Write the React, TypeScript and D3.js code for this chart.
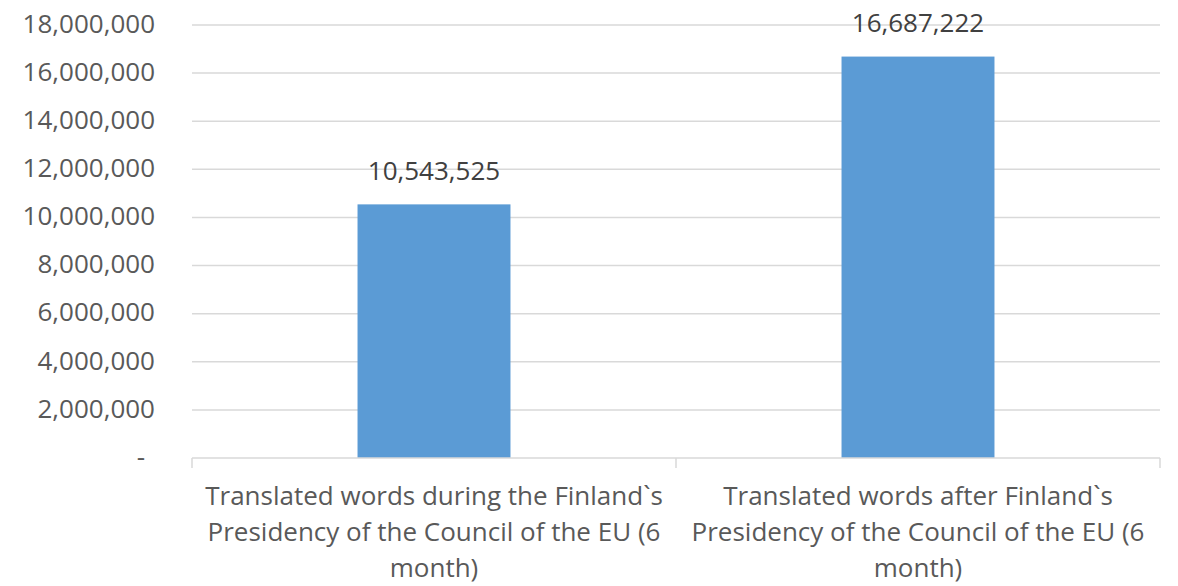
import React, { useEffect, useRef } from "react";
import * as d3 from "d3";

// values
const categories = ["during", "after"];
const categoryLines = [
  ["Translated words during the Finland`s", "Presidency of the Council of the EU (6", "month)"],
  ["Translated words after Finland`s", "Presidency of the Council of the EU (6", "month)"],
];
const translatedWords = [10543525, 16687222];
const yTicks = [0, 2000000, 4000000, 6000000, 8000000, 10000000, 12000000, 14000000, 16000000, 18000000];

const W = 1178;
const H = 586;
const FONT = "'Open Sans', 'DejaVu Sans', sans-serif";

export default function App() {
  const ref = useRef<SVGSVGElement | null>(null);

  useEffect(() => {
    document.body.style.margin = "0";
    const svg = d3.select(ref.current);
    svg.selectAll("*").remove();

    const margin = { top: 25, right: 18, bottom: 128, left: 192 };
    const x = d3.scaleBand<string>()
      .domain(categories)
      .range([margin.left, W - margin.right])
      .paddingInner(0.684)
      .paddingOuter(0.342);
    const y = d3.scaleLinear()
      .domain([0, 18000000])
      .range([H - margin.bottom, margin.top]);

    const fmt = d3.format(",");
    const y0 = y(0);

    // gridlines
    svg.append("g")
      .selectAll("line")
      .data(yTicks.filter(d => d > 0))
      .enter()
      .append("line")
      .attr("x1", margin.left)
      .attr("x2", W - margin.right)
      .attr("y1", d => y(d))
      .attr("y2", d => y(d))
      .attr("stroke", "#d9d9d9")
      .attr("stroke-width", 1.5);

    // y labels
    svg.append("g")
      .selectAll("text")
      .data(yTicks)
      .enter()
      .append("text")
      .attr("x", d => (d === 0 ? 145 : 155))
      .attr("y", d => y(d))
      .attr("dy", "0.3em")
      .attr("text-anchor", "end")
      .attr("font-family", FONT)
      .attr("font-size", 26)
      .attr("fill", "#595959")
      .text(d => (d === 0 ? "-" : fmt(d)));

    // bars
    svg.append("g")
      .selectAll("rect")
      .data(translatedWords)
      .enter()
      .append("rect")
      .attr("x", (d, i) => x(categories[i]) as number)
      .attr("y", d => y(d))
      .attr("width", x.bandwidth())
      .attr("height", d => y0 - y(d))
      .attr("fill", "#5b9bd5");

    // data labels
    svg.append("g")
      .selectAll("text")
      .data(translatedWords)
      .enter()
      .append("text")
      .attr("x", (d, i) => (x(categories[i]) as number) + x.bandwidth() / 2)
      .attr("y", d => y(d) - 32)
      .attr("dy", "0.3em")
      .attr("text-anchor", "middle")
      .attr("font-family", FONT)
      .attr("font-size", 26)
      .attr("fill", "#404040")
      .text(d => fmt(d));

    // x axis line + category ticks
    const step = x.step();
    svg.append("line")
      .attr("x1", margin.left)
      .attr("x2", W - margin.right)
      .attr("y1", y0)
      .attr("y2", y0)
      .attr("stroke", "#d9d9d9")
      .attr("stroke-width", 1.5);
    const bounds = d3.range(categories.length + 1).map(i => margin.left + i * step);
    svg.append("g")
      .selectAll("line")
      .data(bounds)
      .enter()
      .append("line")
      .attr("x1", d => d)
      .attr("x2", d => d)
      .attr("y1", y0)
      .attr("y2", y0 + 10)
      .attr("stroke", "#d9d9d9")
      .attr("stroke-width", 1.5);

    // category labels
    const lab = svg.append("g")
      .selectAll("text")
      .data(categoryLines)
      .enter()
      .append("text")
      .attr("text-anchor", "middle")
      .attr("font-family", FONT)
      .attr("font-size", 26)
      .attr("fill", "#595959");
    lab.each(function (lines, i) {
      const cx = (x(categories[i]) as number) + x.bandwidth() / 2;
      d3.select(this)
        .selectAll("tspan")
        .data(lines)
        .enter()
        .append("tspan")
        .attr("x", cx)
        .attr("y", (l, j) => 497 + j * 36)
        .attr("dy", "0.3em")
        .text(l => l);
    });
  }, []);

  return <svg ref={ref} width={W} height={H} style={{ display: "block", background: "#fff" }} />;
}
